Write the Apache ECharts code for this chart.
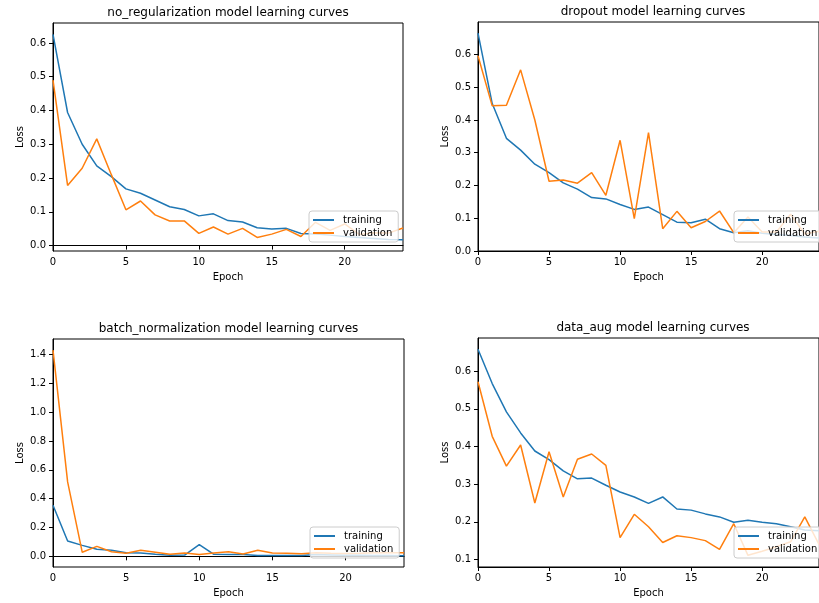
<!DOCTYPE html>
<html>
<head>
<meta charset="utf-8">
<script src="https://cdn.jsdelivr.net/npm/echarts@6/dist/echarts.min.js"></script>
<style>
html, body { margin: 0; padding: 0; background: #fff; }
#chart { width: 819px; height: 603px; }
</style>
</head>
<body>
<div id="chart"></div>
<script>
// epochs on the x axis
var epochs = [0, 1, 2, 3, 4, 5, 6, 7, 8, 9, 10, 11, 12, 13, 14, 15, 16, 17, 18, 19, 20, 21, 22, 23, 24];
var xTicks = [0, 5, 10, 15, 20];

// no_regularization
var noRegTrain = [0.625, 0.394, 0.300, 0.236, 0.204, 0.168, 0.155, 0.135, 0.115, 0.107, 0.088, 0.094, 0.074, 0.070, 0.053, 0.049, 0.051, 0.036, 0.034, 0.031, 0.027, 0.024, 0.021, 0.018, 0.017];
var noRegVal = [0.490, 0.178, 0.229, 0.316, 0.210, 0.106, 0.132, 0.091, 0.073, 0.073, 0.036, 0.055, 0.034, 0.051, 0.024, 0.034, 0.048, 0.027, 0.069, 0.045, 0.064, 0.033, 0.038, 0.037, 0.052];
var noRegTicks = [0.0, 0.1, 0.2, 0.3, 0.4, 0.5, 0.6];

// dropout
var dropTrain = [0.665, 0.450, 0.344, 0.308, 0.265, 0.239, 0.208, 0.189, 0.163, 0.159, 0.142, 0.127, 0.134, 0.111, 0.088, 0.086, 0.097, 0.068, 0.056, 0.062, 0.054, 0.050, 0.047, 0.043, 0.040];
var dropVal = [0.596, 0.443, 0.445, 0.553, 0.400, 0.213, 0.217, 0.207, 0.239, 0.170, 0.338, 0.099, 0.361, 0.068, 0.121, 0.071, 0.090, 0.122, 0.056, 0.104, 0.058, 0.058, 0.112, 0.052, 0.060];
var dropTicks = [0.0, 0.1, 0.2, 0.3, 0.4, 0.5, 0.6];

// batch_normalization
var bnTrain = [0.354, 0.106, 0.076, 0.049, 0.042, 0.025, 0.023, 0.014, 0.007, 0.009, 0.081, 0.014, 0.013, 0.012, 0.006, 0.006, 0.006, 0.006, 0.012, 0.010, 0.008, 0.007, 0.006, 0.005, 0.004];
var bnVal = [1.430, 0.516, 0.028, 0.069, 0.032, 0.021, 0.042, 0.028, 0.014, 0.023, 0.012, 0.023, 0.032, 0.016, 0.042, 0.023, 0.021, 0.018, 0.025, 0.022, 0.020, 0.022, 0.025, 0.024, 0.025];
var bnTicks = [0.0, 0.2, 0.4, 0.6, 0.8, 1.0, 1.2, 1.4];

// data_aug
var augTrain = [0.658, 0.567, 0.492, 0.436, 0.388, 0.365, 0.335, 0.314, 0.316, 0.297, 0.279, 0.266, 0.249, 0.266, 0.234, 0.231, 0.221, 0.213, 0.199, 0.204, 0.199, 0.195, 0.187, 0.178, 0.176];
var augVal = [0.572, 0.427, 0.348, 0.404, 0.250, 0.386, 0.266, 0.366, 0.380, 0.350, 0.158, 0.220, 0.187, 0.145, 0.163, 0.158, 0.150, 0.127, 0.195, 0.111, 0.122, 0.134, 0.147, 0.213, 0.140];
var augTicks = [0.1, 0.2, 0.3, 0.4, 0.5, 0.6];

var font = "DejaVu Sans";

var panels = [
  { title: "no_regularization model learning curves", train: noRegTrain, val: noRegVal, ticks: noRegTicks, yMin: -0.016, yMax: 0.659, left: 53, top: 23, width: 350, height: 228 },
  { title: "dropout model learning curves", train: dropTrain, val: dropVal, ticks: dropTicks, yMin: 0.0, yMax: 0.699, left: 478, top: 22, width: 350, height: 229 },
  { title: "batch_normalization model learning curves", train: bnTrain, val: bnVal, ticks: bnTicks, yMin: -0.074, yMax: 1.507, left: 53, top: 339, width: 351, height: 228 },
  { title: "data_aug model learning curves", train: augTrain, val: augVal, ticks: augTicks, yMin: 0.080, yMax: 0.688, left: 478, top: 338, width: 350, height: 229 }
];

function pairs(values) {
  return epochs.map(function (e, i) { return [e, values[i]]; });
}

var grid = [], xAxis = [], yAxis = [], series = [], legend = [], graphic = [];

panels.forEach(function (p, i) {
  grid.push({
    left: p.left, top: p.top, width: p.width, height: p.height,
    show: true, borderColor: "#000", borderWidth: 1, backgroundColor: "#fff"
  });
  xAxis.push({
    type: "value", gridIndex: i, min: 0, max: 24,
    name: "Epoch", nameLocation: "middle", nameGap: 21,
    nameTextStyle: { fontSize: 10, color: "#000", fontFamily: font },
    axisLine: { show: true, lineStyle: { color: "#000", width: 1 } },
    axisTick: { show: true, length: 4, customValues: xTicks, lineStyle: { color: "#000" } },
    axisLabel: { customValues: xTicks, margin: 6, fontSize: 10, color: "#000", fontFamily: font },
    splitLine: { show: false }
  });
  yAxis.push({
    type: "value", gridIndex: i, min: p.yMin, max: p.yMax,
    name: "Loss", nameLocation: "middle", nameGap: 28,
    nameTextStyle: { fontSize: 10, color: "#000", fontFamily: font },
    axisLine: { show: true, lineStyle: { color: "#000", width: 1 } },
    axisTick: { show: true, length: 4, customValues: p.ticks, lineStyle: { color: "#000" } },
    axisLabel: {
      customValues: p.ticks, margin: 7, fontSize: 10, color: "#000", fontFamily: font,
      formatter: function (v) { return v.toFixed(1); }
    },
    splitLine: { show: false }
  });
  series.push({
    name: "training", type: "line", xAxisIndex: i, yAxisIndex: i,
    data: pairs(p.train), symbol: "none",
    itemStyle: { color: "#1f77b4" },
    lineStyle: { color: "#1f77b4", width: 1.5 }
  });
  series.push({
    name: "validation", type: "line", xAxisIndex: i, yAxisIndex: i,
    data: pairs(p.val), symbol: "none",
    itemStyle: { color: "#ff7f0e" },
    lineStyle: { color: "#ff7f0e", width: 1.5 }
  });
  legend.push({
    data: ["training", "validation"],
    orient: "vertical",
    left: p.left + p.width - 94,
    top: p.top + p.height - 40,
    icon: "rect",
    itemWidth: 21, itemHeight: 2, itemGap: 3,
    padding: [4, 6, 4, 4],
    backgroundColor: "rgba(255,255,255,0.8)",
    borderColor: "#cccccc", borderWidth: 1, borderRadius: 3,
    textStyle: { fontSize: 10, color: "#000", fontFamily: font, padding: [0, 0, 0, 4] },
    selectedMode: false
  });
  graphic.push({
    type: "text",
    x: p.left + p.width / 2,
    y: p.top - 10,
    style: {
      text: p.title, fill: "#000", fontSize: 12, fontFamily: font,
      align: "center", verticalAlign: "middle"
    }
  });
});

var myChart = echarts.init(document.getElementById("chart"));
myChart.setOption({
  animation: false,
  backgroundColor: "#fff",
  grid: grid,
  xAxis: xAxis,
  yAxis: yAxis,
  legend: legend,
  graphic: graphic,
  series: series
});
</script>
</body>
</html>
